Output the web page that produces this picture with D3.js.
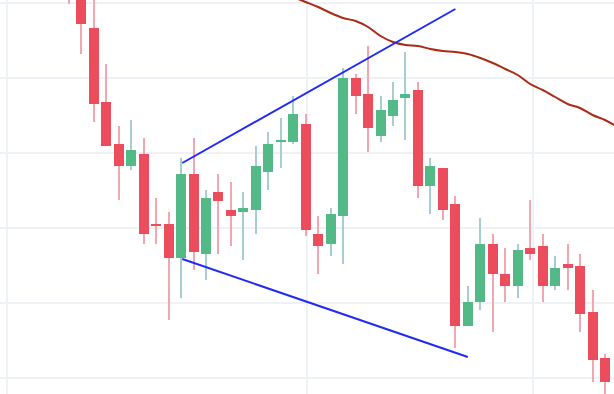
<!DOCTYPE html>
<html>
<head>
<meta charset="utf-8">
<script src="https://cdn.jsdelivr.net/npm/d3@7/dist/d3.min.js"></script>
<style>
  html, body { margin: 0; padding: 0; background: #ffffff; }
  svg { display: block; }
</style>
</head>
<body>
<svg id="chart" width="614" height="394"></svg>
<script>
// ---- data (price units) ----
const opens  = [183.6,176.6,170.0,155.2,146.8,142.4,144.8,130.8,130.8,124.0,140.8,124.8,137.2,133.6,133.2,133.6,141.2,147.2,147.2,150.8,128.8,126.8,132.4,160.0,156.8,148.4,152.4,156.0,157.6,138.4,142.0,134.8,110.4,115.2,126.8,120.8,118.4,126.0,126.4,118.4,122.8,122.4,113.2,104.0];
const highs  = [185.6,177.6,176.6,162.8,150.4,151.6,148.0,136.0,133.2,144.0,148.0,137.6,140.8,139.2,137.2,146.4,149.2,152.0,156.4,152.8,132.4,134.0,162.0,160.8,166.4,156.4,159.2,165.2,159.2,144.0,142.0,136.4,118.4,132.0,128.8,126.0,126.8,135.6,128.8,124.4,126.8,124.8,117.6,104.8];
const lows   = [174.8,164.8,151.2,146.4,135.6,141.6,126.8,126.8,111.6,116.0,121.6,119.6,124.8,126.4,123.6,128.8,137.6,142.0,146.8,128.4,120.8,124.4,122.8,152.8,145.2,147.2,150.4,147.6,136.0,132.8,131.6,106.0,110.4,113.6,109.2,115.2,116.0,123.6,115.2,117.6,117.6,109.2,99.2,96.0];
const closes = [177.6,170.8,154.8,146.4,142.4,145.6,128.8,130.4,124.0,140.8,125.2,136.0,135.4,132.4,134.0,142.4,146.8,147.6,152.8,129.6,126.4,132.8,160.0,156.4,150.0,153.6,155.6,156.8,138.4,142.4,133.6,110.4,115.2,126.8,120.8,118.4,125.6,124.8,118.4,122.0,122.0,112.8,103.6,99.2];

// moving average, starting at candle index 18
const maStart = 18;
const maValues = [176.2,175.2,174.2,173.0,172.0,171.4,170.2,168.4,167.2,166.6,166.4,165.8,165.4,165.2,164.8,164.0,163.0,161.8,160.6,158.8,157.6,156.2,154.8,154.0,152.6,151.6,150.2];

// trend lines: [index, price] pairs
const upperTrend = [[9.1, 143.0], [31.0, 173.8]];
const lowerTrend = [[9.1, 123.8], [32.0, 104.2]];

// grid ticks
const priceTicks = [100, 115, 130, 145, 160, 175];
const timeTicks = [-4.97, 19.1, 37.2];

// ---- scales ----
const W = 614, H = 394;
const x = d3.scaleLinear().domain([0, 43]).range([68.8, 68.8 + 12.47 * 43]);
const y = d3.scaleLinear().domain([100, 175]).range([378, 3]);

const svg = d3.select("#chart");

const upBody = "#53b987", downBody = "#eb4d5c";
const upWick = "#a6cdd0", downWick = "#f3a6b0";

// grid
const grid = svg.append("g");
grid.selectAll("line.h").data(priceTicks).join("line")
  .attr("x1", 0).attr("x2", W)
  .attr("y1", d => Math.round(y(d))).attr("y2", d => Math.round(y(d)))
  .attr("stroke", "#eef2f7").attr("stroke-width", 2);
grid.selectAll("line.v").data(timeTicks).join("line")
  .attr("y1", 0).attr("y2", H)
  .attr("x1", d => Math.round(x(d))).attr("x2", d => Math.round(x(d)))
  .attr("stroke", "#eef2f7").attr("stroke-width", 2);

const candles = opens.map((o, i) => ({ i, o, h: highs[i], l: lows[i], c: closes[i], up: closes[i] >= o }));

// wicks
svg.append("g").selectAll("line").data(candles).join("line")
  .attr("x1", d => Math.round(x(d.i))).attr("x2", d => Math.round(x(d.i)))
  .attr("y1", d => y(d.h)).attr("y2", d => y(d.l))
  .attr("stroke", d => d.up ? upWick : downWick)
  .attr("stroke-width", 2);

// bodies
svg.append("g").selectAll("rect").data(candles).join("rect")
  .attr("x", d => Math.round(x(d.i)) - 5)
  .attr("width", 10)
  .attr("y", d => Math.round(y(Math.max(d.o, d.c))))
  .attr("height", d => Math.max(2, Math.round(Math.abs(y(d.o) - y(d.c)))))
  .attr("fill", d => d.up ? upBody : downBody);

// moving average
const maData = maValues.map((v, k) => [maStart + k, v]);
svg.append("path").datum(maData)
  .attr("d", d3.line().x(d => x(d[0])).y(d => y(d[1])).curve(d3.curveMonotoneX))
  .attr("fill", "none").attr("stroke", "#ab2a16").attr("stroke-width", 2);

// trend lines
[upperTrend, lowerTrend].forEach(t => {
  svg.append("path").datum(t)
    .attr("d", d3.line().x(d => x(d[0])).y(d => y(d[1])))
    .attr("fill", "none").attr("stroke", "#1f2af5").attr("stroke-width", 2);
});
</script>
</body>
</html>
